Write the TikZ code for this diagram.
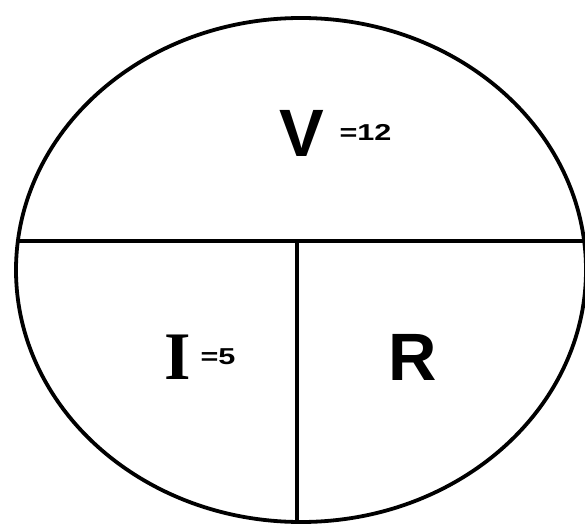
\documentclass[tikz,border=0pt]{standalone}
\usepackage{fontspec}
\setmainfont{Liberation Sans}
\newfontfamily\ohmserif{Liberation Serif}
\tikzset{
  biglabel/.style={font=\fontsize{67}{67}\selectfont\bfseries,inner sep=0pt},
  vallabel/.style={font=\fontsize{23}{23}\selectfont\bfseries,inner sep=0pt,anchor=west,xscale=1.33}
}
\begin{document}
\begin{tikzpicture}[x=1pt,y=-1pt,line width=3.8pt]
  \useasboundingbox (0,0) rectangle (585,526);
  % outer ellipse
  \draw (301,270) ellipse [x radius=285, y radius=252];
  \coordinate (midL) at (17,241);
  \coordinate (midR) at (585,241);
  \coordinate (midC) at (297,241);
  \coordinate (bot) at (297,522);
  \draw (midL) -- (midR);
  \draw (midC) -- (bot);
  % labels
  \node[biglabel] (volt) at (302,133) {V};
  \node[vallabel] (voltval) at (337,132) {=12};
  \node[biglabel,font=\fontsize{68}{68}\selectfont\ohmserif\bfseries] (amp) at (178,357) {I};
  \node[vallabel] (ampval) at (198,357) {=5};
  \node[biglabel] (res) at (413,357) {R};
\end{tikzpicture}
\end{document}
